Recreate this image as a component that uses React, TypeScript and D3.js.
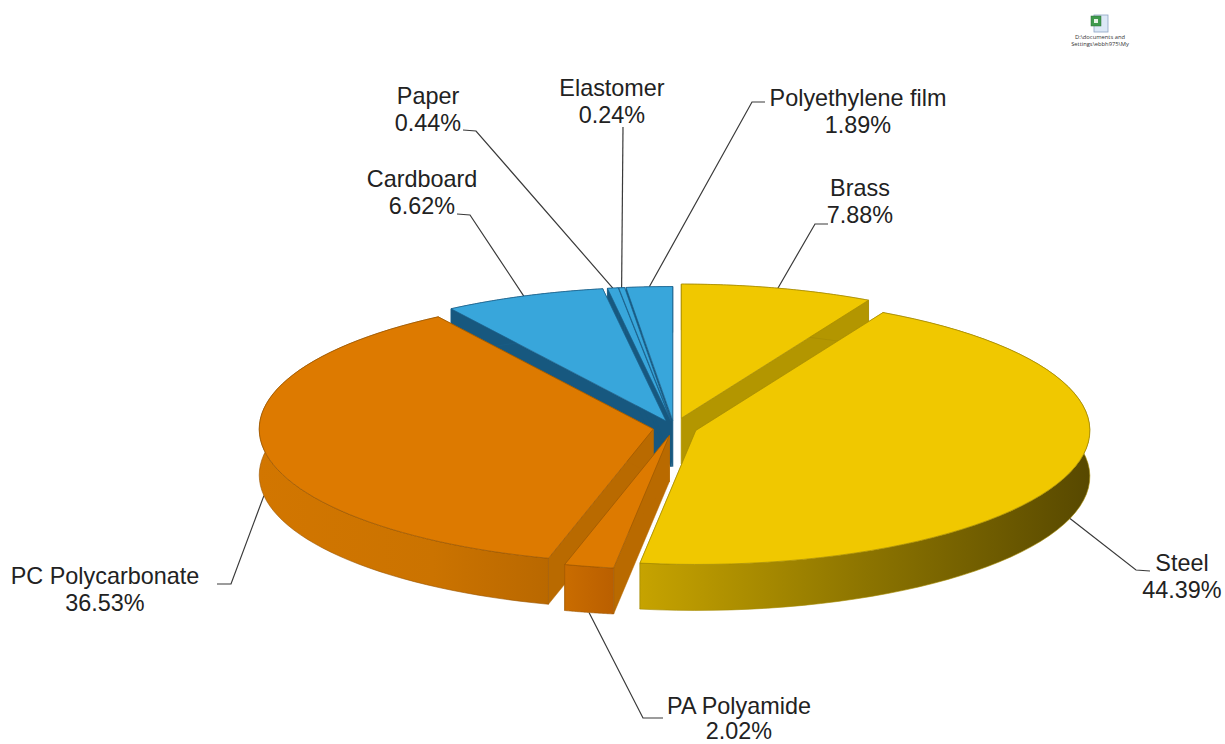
import React from "react";
import * as d3 from "d3";

const materials = ["Brass", "Steel", "PA Polyamide", "PC Polycarbonate", "Cardboard", "Paper", "Elastomer", "Polyethylene film"];
const shares = [7.88, 44.39, 2.02, 36.53, 6.62, 0.44, 0.24, 1.89];
const families = ["yellow", "yellow", "orange", "orange", "blue", "blue", "blue", "blue"];
const explode = [30, 23, 22, 21, 22, 22, 22, 22];
// painting groups: walls of a whole group go first, then its tops
const paintGroups = [[4, 5, 6, 7], [0], [3], [1], [2]];

const W = 1225, H = 744;
const CX = 674, CY = 428, RX = 394, RY = 134, DEPTH = 46;

const topColor: Record<string, string> = { yellow: "#F0C800", orange: "#DD7A00", blue: "#38A6DB" };
const edgeColor: Record<string, string> = { yellow: "#A58A00", orange: "#9A5600", blue: "#1B5F88" };
const radialColor: Record<string, string> = { yellow: "#B39600", orange: "#B96A00", blue: "#17587F" };
const wallFill = ["#B39600", "url(#steelWall)", "url(#paWall)", "url(#pcWall)", "#17587F", "#17587F", "#17587F", "#17587F"];

// label placement: [x, first-line centre y, second-line centre y]
const labelPos: [number, number, number][] = [
  [860, 188, 215], [1182, 563, 590], [739, 706, 731], [105, 576, 603],
  [422, 179, 206], [428, 96, 123], [612, 88, 115], [858, 98, 125],
];
// leader elbow: [label-side x, label-side y, elbow x, elbow y]
const leaderPos: [number, number, number, number][] = [
  [828, 224, 815, 224], [1150, 571, 1136, 570], [663, 718, 643, 718], [217, 584, 231, 584],
  [457, 214, 470, 215], [463, 130, 476, 131], [623, 127, 623, 127], [765, 102, 752, 102],
];

const pie = d3.pie<number>().sort(null).value((d) => d);
const arcs = pie(shares);
const lineGen = d3.line<[number, number]>();

export default function App() {
  const slices = arcs.map((a, i) => {
    const mid = (a.startAngle + a.endAngle) / 2;
    const ox = CX + explode[i] * Math.sin(mid);
    const oy = CY - explode[i] * Math.cos(mid) * (RY / RX);
    const pt = (t: number, dz = 0): [number, number] => [ox + RX * Math.sin(t), oy - RY * Math.cos(t) + dz];
    const ts = d3.range(0, 61).map((k) => a.startAngle + ((a.endAngle - a.startAngle) * k) / 60);
    const top = lineGen([[ox, oy], ...ts.map((t) => pt(t))]) + "Z";
    const radial = (t: number) =>
      lineGen([[ox, oy], pt(t), pt(t, DEPTH), [ox, oy + DEPTH]]) + "Z";
    const outer = lineGen([...ts.map((t) => pt(t)), ...ts.slice().reverse().map((t) => pt(t, DEPTH))]) + "Z";
    const front = Math.cos(mid) < 0;
    const anchor = pt(mid, front ? DEPTH : 0);
    return { i, top, r0: radial(a.startAngle), r1: radial(a.endAngle), outer, anchor };
  });

  const font = "'Liberation Sans', Arial, sans-serif";

  return (
    <svg width={W} height={H} viewBox={`0 0 ${W} ${H}`} style={{ position: "absolute", left: 0, top: 0, display: "block", background: "#fff" }}>
      <defs>
        <linearGradient id="steelWall" gradientUnits="userSpaceOnUse" x1={640} x2={1092} y1={0} y2={0}>
          <stop offset="0" stopColor="#C6A300" />
          <stop offset="0.5" stopColor="#8C7400" />
          <stop offset="1" stopColor="#574800" />
        </linearGradient>
        <linearGradient id="pcWall" gradientUnits="userSpaceOnUse" x1={258} x2={550} y1={0} y2={0}>
          <stop offset="0" stopColor="#D27600" />
          <stop offset="0.6" stopColor="#CB7300" />
          <stop offset="1" stopColor="#B96800" />
        </linearGradient>
        <linearGradient id="paWall" gradientUnits="userSpaceOnUse" x1={566} x2={614} y1={0} y2={0}>
          <stop offset="0" stopColor="#C96C00" />
          <stop offset="1" stopColor="#BA5F00" />
        </linearGradient>
      </defs>

      {/* embedded object icon */}
      <g>
        <rect x={1094} y={15} width={14} height={17} fill="#DCE8F6" stroke="#8CA3C4" strokeWidth={0.8} />
        <rect x={1091} y={16} width={10} height={10} fill="#3E9A4C" stroke="#2A6E36" strokeWidth={0.5} />
        <rect x={1094} y={19} width={4} height={4} fill="#E6F2E6" />
        <text x={1100} y={39} textAnchor="middle" fontFamily="'Open Sans', sans-serif" fontSize={5.8} fill="#333">D:\documents and</text>
        <text x={1100} y={46} textAnchor="middle" fontFamily="'Open Sans', sans-serif" fontSize={5.8} fill="#333">Settings\ebbh975\My</text>
      </g>

      {/* leaders */}
      <g fill="none" stroke="#3a3a3a" strokeWidth={1.2}>
        {slices.map((s) => {
          const l = leaderPos[s.i];
          return <path key={s.i} d={lineGen([[l[0], l[1]], [l[2], l[3]], s.anchor]) ?? ""} />;
        })}
      </g>

      {/* slices */}
      {paintGroups.map((group, g) => (
        <g key={g}>
          {group.map((idx) => {
            const s = slices[idx];
            const fam = families[idx];
            return (
              <g key={idx}>
                <path d={s.r0} fill={radialColor[fam]} stroke={radialColor[fam]} strokeWidth={0.5} />
                <path d={s.r1} fill={radialColor[fam]} stroke={radialColor[fam]} strokeWidth={0.5} />
                <path d={s.outer} fill={wallFill[idx]} stroke={edgeColor[fam]} strokeWidth={0.6} />
              </g>
            );
          })}
          {group.map((idx) => {
            const s = slices[idx];
            const fam = families[idx];
            return <path key={idx} d={s.top} fill={topColor[fam]} stroke={edgeColor[fam]} strokeWidth={0.7} />;
          })}
        </g>
      ))}

      {/* labels */}
      <g fontFamily={font} fontSize={23.4} fill="#222" textAnchor="middle">
        {materials.map((m, i) => (
          <g key={m}>
            <text x={labelPos[i][0]} y={labelPos[i][1]} dominantBaseline="central">{m}</text>
            <text x={labelPos[i][0]} y={labelPos[i][2]} dominantBaseline="central">{shares[i].toFixed(2)}%</text>
          </g>
        ))}
      </g>
    </svg>
  );
}
